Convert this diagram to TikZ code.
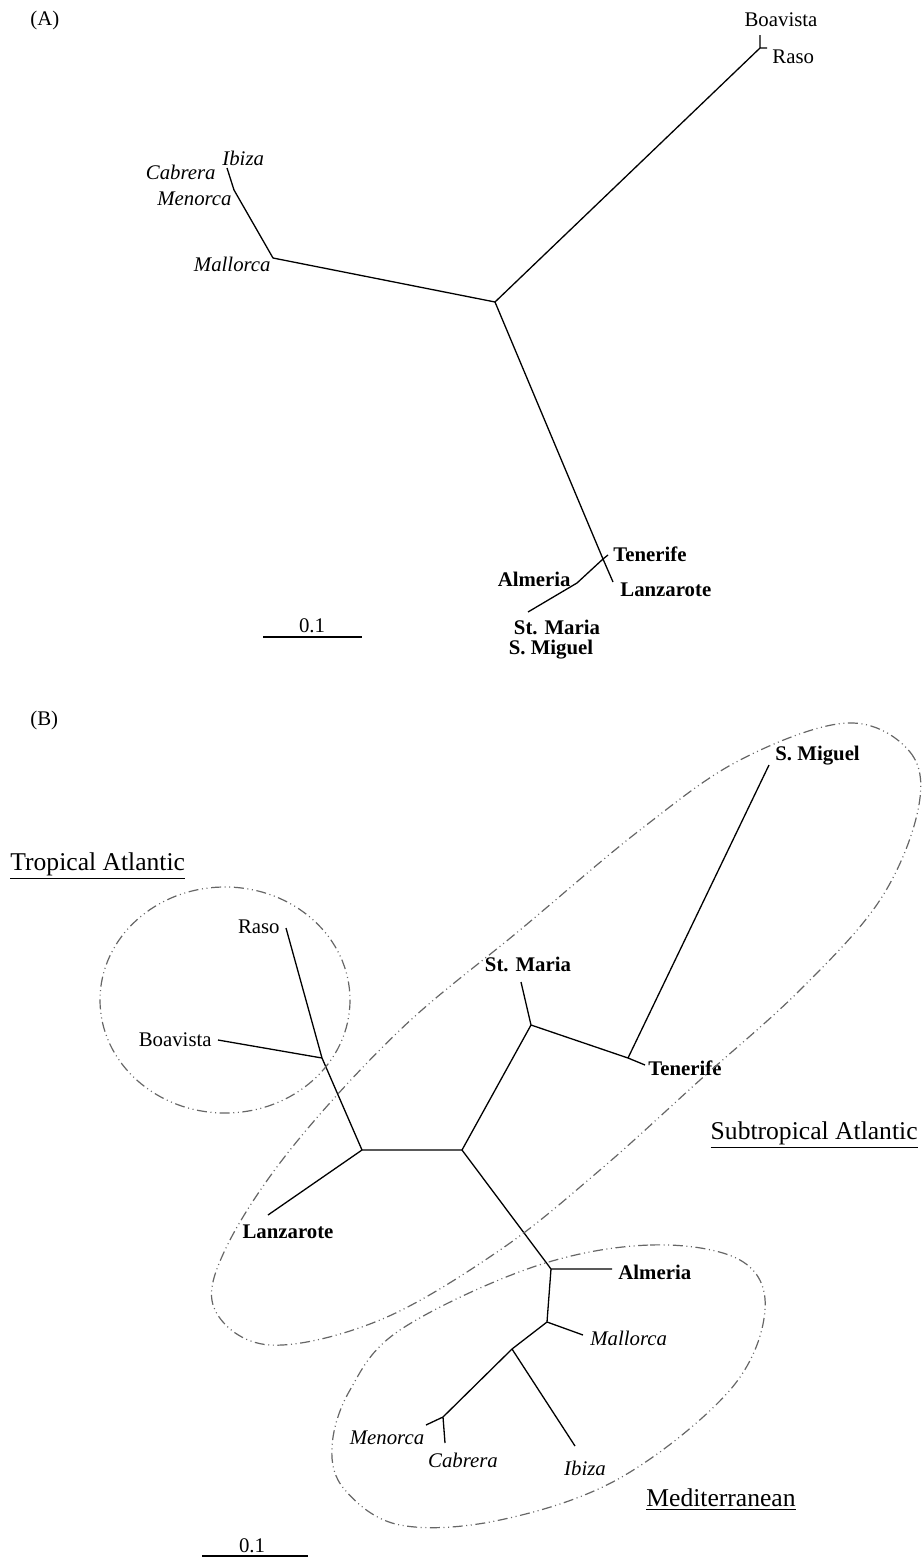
\documentclass[tikz,border=0pt]{standalone}
\usepackage{fontspec}
\setmainfont{Liberation Serif}
\usetikzlibrary{positioning}
\tikzset{
  branch/.style={line width=0.65pt, line join=round},
  scalebar/.style={line width=0.9pt},
  taxon/.style={inner sep=0pt, font=\fontsize{10.4}{12}\selectfont},
  medit/.style={taxon, font=\fontsize{10.4}{12}\selectfont\itshape},
  atlan/.style={taxon, font=\fontsize{10.4}{12}\selectfont\bfseries},
  region/.style={inner sep=0pt, font=\fontsize{12.8}{15}\selectfont},
  grouping/.style={draw=black!60, line width=0.6pt,
    dash pattern=on 5pt off 1.8pt on 0.5pt off 1.8pt on 0.5pt off 1.8pt}
}
\begin{document}
\begin{tikzpicture}[x=0.5pt, y=-0.5pt]
  \useasboundingbox (0,0) rectangle (923,1558);

  % (A) unrooted tree
  \node[taxon,anchor=west] (labA) at (30,20) {(A)};
  \coordinate (a0) at (495,302);
  \coordinate (aBR) at (760,48);
  \coordinate (aBoa) at (760,35);
  \coordinate (aRas) at (767,48);
  \coordinate (aMal) at (273,258);
  \coordinate (aMen) at (234,190);
  \coordinate (aIC) at (227,168);
  \coordinate (aTL) at (603,559);
  \coordinate (aTen) at (608,555);
  \coordinate (aLan) at (613,582);
  \coordinate (aAlm) at (577,583);
  \coordinate (aSM) at (528,612);
  \draw[branch] (a0) -- (aBR) (aBR) -- (aBoa) (aBR) -- (aRas);
  \draw[branch] (a0) -- (aMal) -- (aMen) -- (aIC);
  \draw[branch] (a0) -- (aTL) -- (aLan) (aTL) -- (aTen) (aTL) -- (aAlm) -- (aSM);

  \node[taxon] (tBoaA) at (781,20) {Boavista};
  \node[taxon,anchor=west] (tRasA) at (772,57) {Raso};
  \node[medit,anchor=east] (tCabA) at (216,172) {Cabrera};
  \node[medit,anchor=west] (tIbiA) at (222,158) {Ibiza};
  \node[medit,anchor=east] (tMenA) at (232,199) {Menorca};
  \node[medit,anchor=east] (tMalA) at (271,264) {Mallorca};
  \node[atlan,anchor=west] (tTenA) at (613,554) {Tenerife};
  \node[atlan,anchor=west] (tLanA) at (620,590) {Lanzarote};
  \node[atlan,anchor=east] (tAlmA) at (571,579) {Almeria};
  \node[atlan] (tSMaA) at (557,627) {St. Maria};
  \node[atlan] (tSMiA) at (551,650) {S. Miguel};

  \coordinate (sa1) at (263,637);
  \coordinate (sa2) at (362,637);
  \draw[scalebar] (sa1) -- (sa2);
  \node[taxon] (scaleA) at (312,626) {0.1};

  % (B) tree with groupings
  \node[taxon,anchor=west] (labB) at (30,720) {(B)};
  \coordinate (b0) at (462,1150);
  \coordinate (bN1) at (322,1058);
  \coordinate (bN2) at (362,1150);
  \coordinate (bRas) at (286,928);
  \coordinate (bBoa) at (218,1040);
  \coordinate (bLan) at (268,1215);
  \coordinate (bN3) at (531,1025);
  \coordinate (bSMa) at (521,982);
  \coordinate (bN4) at (628,1058);
  \coordinate (bTen) at (645,1065);
  \coordinate (bSMi) at (769,765);
  \coordinate (bAlN) at (551,1269);
  \coordinate (bAlm) at (612,1269);
  \coordinate (bMaN) at (547,1322);
  \coordinate (bMal) at (583,1335);
  \coordinate (bN5) at (512,1349);
  \coordinate (bIbi) at (575,1446);
  \coordinate (bN6) at (443,1417);
  \coordinate (bMen) at (426,1425);
  \coordinate (bCab) at (445,1443);
  \draw[branch] (bRas) -- (bN1) -- (bN2) -- (b0) (bBoa) -- (bN1) (bN2) -- (bLan);
  \draw[branch] (b0) -- (bN3) -- (bSMa) (bN3) -- (bN4) -- (bSMi) (bN4) -- (bTen);
  \draw[branch] (b0) -- (bAlN) -- (bAlm) (bAlN) -- (bMaN) -- (bMal) (bMaN) -- (bN5) -- (bIbi);
  \draw[branch] (bN5) -- (bN6) -- (bMen) (bN6) -- (bCab);

  \node[taxon,anchor=east] (tRasB) at (280,927) {Raso};
  \node[taxon,anchor=east] (tBoaB) at (212,1040) {Boavista};
  \node[atlan] (tLanB) at (288,1232) {Lanzarote};
  \node[atlan] (tSMaB) at (528,964) {St. Maria};
  \node[atlan,anchor=west] (tTenB) at (648,1068) {Tenerife};
  \node[atlan,anchor=west] (tSMiB) at (775,756) {S. Miguel};
  \node[atlan,anchor=west] (tAlmB) at (618,1272) {Almeria};
  \node[medit,anchor=west] (tMalB) at (590,1338) {Mallorca};
  \node[medit] (tMenB) at (387,1438) {Menorca};
  \node[medit] (tCabB) at (463,1460) {Cabrera};
  \node[medit] (tIbiB) at (585,1468) {Ibiza};

  \node[region,anchor=west] (regTrop) at (10,866) {\underline{Tropical Atlantic}};
  \node[region,anchor=east] (regSub) at (918,1135) {\underline{Subtropical Atlantic}};
  \node[region] (regMed) at (721,1500) {\underline{Mediterranean}};

  \draw[grouping] (225,1000) ellipse [x radius=125, y radius=113];
  \draw[grouping] plot[smooth cycle, tension=0.6] coordinates {
    (847,723) (910,752) (918,810) (880,900) (800,990) (700,1080)
    (600,1170) (500,1250) (380,1320) (270,1345) (215,1310) (225,1250)
    (290,1150) (400,1030) (520,930) (640,830) (740,760)};
  \draw[grouping] plot[smooth cycle, tension=0.6] coordinates {
    (533,1267) (650,1245) (740,1260) (765,1310) (730,1390) (620,1478)
    (500,1520) (400,1525) (345,1490) (332,1447) (350,1390) (400,1330)};

  \coordinate (sb1) at (202,1556);
  \coordinate (sb2) at (308,1556);
  \draw[scalebar] (sb1) -- (sb2);
  \node[taxon] (scaleB) at (252,1546) {0.1};
\end{tikzpicture}
\end{document}
